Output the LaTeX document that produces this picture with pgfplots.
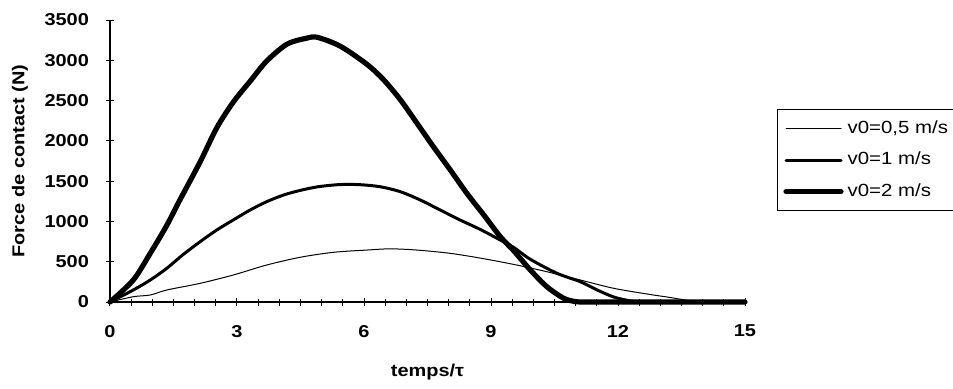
\documentclass[border=0pt]{standalone}
\usepackage{fontspec}
\setmainfont{Liberation Sans}[FakeStretch=1.16]
\usepackage{pgfplots}
\pgfplotsset{compat=1.18}
\begin{document}
\begin{tikzpicture}[x=1pt,y=1pt]
\begin{axis}[
  at={(55pt,-151pt)}, anchor=south west,
  scale only axis, width=317.5pt, height=141pt,
  xmin=0, xmax=15, ymin=0, ymax=3500,
  axis x line*=bottom, axis y line*=left,
  axis line style={line width=0.6pt, -},
  xtick={0,3,6,9,12,15}, ytick={0,500,...,3500},
  minor x tick num=5,
  tick align=center, major tick length=4pt, minor tick length=3.5pt,
  tick style={black, line width=0.5pt},
  every minor tick/.style={black, line width=0.5pt},
  /pgf/number format/assume math mode=true,
  /pgf/number format/1000 sep={},
  ticklabel style={font=\bfseries\fontsize{8.6}{10}\selectfont},
  xticklabel style={yshift=-6pt},
  yticklabel style={xshift=-5pt},
  xlabel={temps/τ},
  ylabel={Force de contact (N)},
  label style={font=\bfseries\fontsize{8.6}{10}\selectfont},
  xlabel style={at={(axis description cs:0.5,-0.248)}, anchor=center},
  ylabel style={at={(axis description cs:-0.142,0.5)}, anchor=center, rotate=0},
  clip=false,
  legend style={name=leg, at={(axis description cs:1.0504,0.681)}, anchor=north west,
    draw=none, font=\fontsize{8.8}{10}\selectfont,
    row sep=4pt, inner xsep=3pt, inner ysep=3pt, legend cell align=left},
  legend image code/.code={\draw[#1] (0pt,0pt) -- (27.5pt,0pt);},
  every axis plot/.append style={black, line join=round, line cap=round, smooth, tension=0.5},
]
\addplot[line width=0.5pt] coordinates {
(0,0) (0.55,66) (0.95,87) (1.34,149) (2.13,232) (2.91,335) (3.70,459) (4.49,555)
(5.28,617) (6.07,645) (6.62,660) (7.25,645) (8.04,604) (8.80,540) (9.60,460)
(10.32,376) (11.11,273) (11.90,170) (12.69,99) (13.16,62) (13.63,22) (13.95,2) (14.3,0) (15,0)};
\addlegendentry{v0=0,5 m/s}
\addplot[line width=1.5pt] coordinates {
(0,0) (0.55,149) (0.95,273) (1.34,418) (1.73,590) (2.13,749) (2.52,893) (2.91,1018)
(3.31,1142) (3.70,1245) (4.10,1328) (4.49,1385) (4.92,1431) (5.44,1458) (5.91,1456)
(6.38,1431) (6.86,1369) (7.33,1266) (7.80,1142) (8.27,1018) (8.75,900) (9.22,769)
(9.53,680) (9.93,530) (10.56,356) (11.11,252) (11.51,149) (11.90,62) (12.29,14) (12.6,0) (13,0) (15,0)};
\addlegendentry{v0=1 m/s}
\addplot[line width=2.6pt] coordinates {
(0,0) (0.55,273) (0.95,604) (1.34,950) (1.65,1266) (2.13,1740) (2.52,2160) (2.91,2480)
(3.31,2740) (3.70,2990) (4.18,3200) (4.65,3275) (4.90,3285) (5.44,3175) (6.07,2950)
(6.46,2760) (6.86,2510) (7.25,2220) (7.64,1927) (8.04,1638) (8.43,1349) (8.83,1080)
(9.22,811) (9.53,640) (9.93,397) (10.32,190) (10.72,46) (11.03,3) (11.4,0) (12,0) (15,0)};
\addlegendentry{v0=2 m/s}
\end{axis}
\draw[line width=0.5pt] (480,0 |- leg.north) -- (leg.north west) -- (leg.south west) -- (480,0 |- leg.south);
\pgfresetboundingbox
\path (0,0) rectangle (476.5,-194);
\end{tikzpicture}
\end{document}
